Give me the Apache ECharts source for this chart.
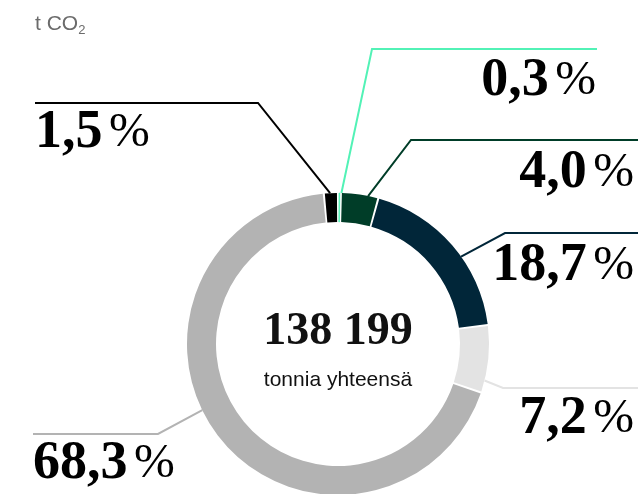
<!DOCTYPE html>
<html>
<head>
<meta charset="utf-8">
<script src="https://cdn.jsdelivr.net/npm/echarts@6/dist/echarts.min.js"></script>
<style>
html,body{margin:0;padding:0;background:#fff;}
#chart{width:638px;height:494px;}
</style>
</head>
<body>
<div id="chart"></div>
<script>
// Data
var categories = ['A', 'B', 'C', 'D', 'E', 'F'];
var shares = [0.3, 4.0, 18.7, 7.2, 68.3, 1.5];
var sliceColors = ['#52f2b6', '#003d28', '#012639', '#e3e3e3', '#b3b3b3', '#000000'];
var totalLabel = '138 199';
var totalCaption = 'tonnia yhteensä';
var unitText = 't CO';

// Label placement (angle of line start on ring in degrees from top, elbow, end of line, text anchor)
var labelPlaces = [
  {ang: 1.3, elbow: [372, 49], end: [597, 49], tx: 596, ty: 81, align: 'right'},
  {ang: 11.5, elbow: [411, 140], end: [638, 140], tx: 634, ty: 173, align: 'right'},
  {ang: 54.6, elbow: [505, 233], end: [638, 233], tx: 634, ty: 266, align: 'right'},
  {ang: 104, elbow: [503, 388], end: [638, 388], tx: 634, ty: 419, align: 'right'},
  {ang: 244, elbow: [158, 434], end: [33, 434], tx: 33, ty: 464, align: 'left'},
  {ang: 357, elbow: [258, 103], end: [35, 103], tx: 35, ty: 133, align: 'left'}
];

var CX = 338, CY = 344, R0 = 122, R1 = 151;

function fmt(v) { return v.toFixed(1).replace('.', ','); }

var data = shares.map(function (v, i) {
  var d = {name: categories[i], value: v, itemStyle: {color: sliceColors[i]}, labelLine: {lineStyle: {color: sliceColors[i]}}};
  if (i === 0) { d.itemStyle.borderColor = sliceColors[i]; d.itemStyle.borderWidth = 0.8; }
  return d;
});

function ringPoint(deg) {
  var a = deg * Math.PI / 180;
  return [CX + R1 * Math.sin(a), CY - R1 * Math.cos(a)];
}

var chart = echarts.init(document.getElementById('chart'), null, {renderer: 'canvas'});
chart.setOption({
  animation: false,
  title: [{
    text: unitText + '{sub|2}',
    left: 30, top: 7,
    textStyle: {
      fontFamily: 'Liberation Sans', fontSize: 21, fontWeight: 'normal', color: '#6b6b6b',
      rich: {sub: {fontFamily: 'Liberation Sans', fontSize: 13, color: '#6b6b6b', verticalAlign: 'bottom', padding: [12, 0, 0, 0]}}
    }
  }],
  graphic: [
    {type: 'text', x: CX, y: 332, style: {text: totalLabel, font: 'bold 46px "Liberation Serif"', fill: '#111', textAlign: 'center', textVerticalAlign: 'middle'}},
    {type: 'text', x: CX, y: 380, style: {text: totalCaption, font: '21px "Liberation Sans"', fill: '#111', textAlign: 'center', textVerticalAlign: 'middle'}}
  ],
  series: [{
    type: 'pie',
    center: [CX, CY],
    radius: [R0, R1],
    startAngle: 90,
    clockwise: true,
    padAngle: 0.8,
    avoidLabelOverlap: false,
    itemStyle: {borderWidth: 0},
    label: {
      show: true,
      position: 'outside',
      formatter: function (p) { return '{n|' + fmt(p.value) + '}{s| }{p|%}'; },
      rich: {
        n: {fontFamily: 'Liberation Serif', fontWeight: 'bold', fontSize: 54, color: '#000', lineHeight: 60},
        s: {fontFamily: 'Liberation Serif', fontSize: 26, lineHeight: 60},
        p: {fontFamily: 'Liberation Serif', fontWeight: 'normal', fontSize: 49, color: '#000', lineHeight: 60}
      }
    },
    labelLine: {show: true, length: 20, length2: 20, smooth: false, lineStyle: {width: 2}},
    labelLayout: function (params) {
      var pl = labelPlaces[params.dataIndex];
      return {
        x: pl.tx, y: pl.ty, align: pl.align, verticalAlign: 'middle',
        labelLinePoints: [ringPoint(pl.ang), pl.elbow, pl.end]
      };
    },
    emphasis: {disabled: true},
    data: data
  }]
});
</script>
</body>
</html>
